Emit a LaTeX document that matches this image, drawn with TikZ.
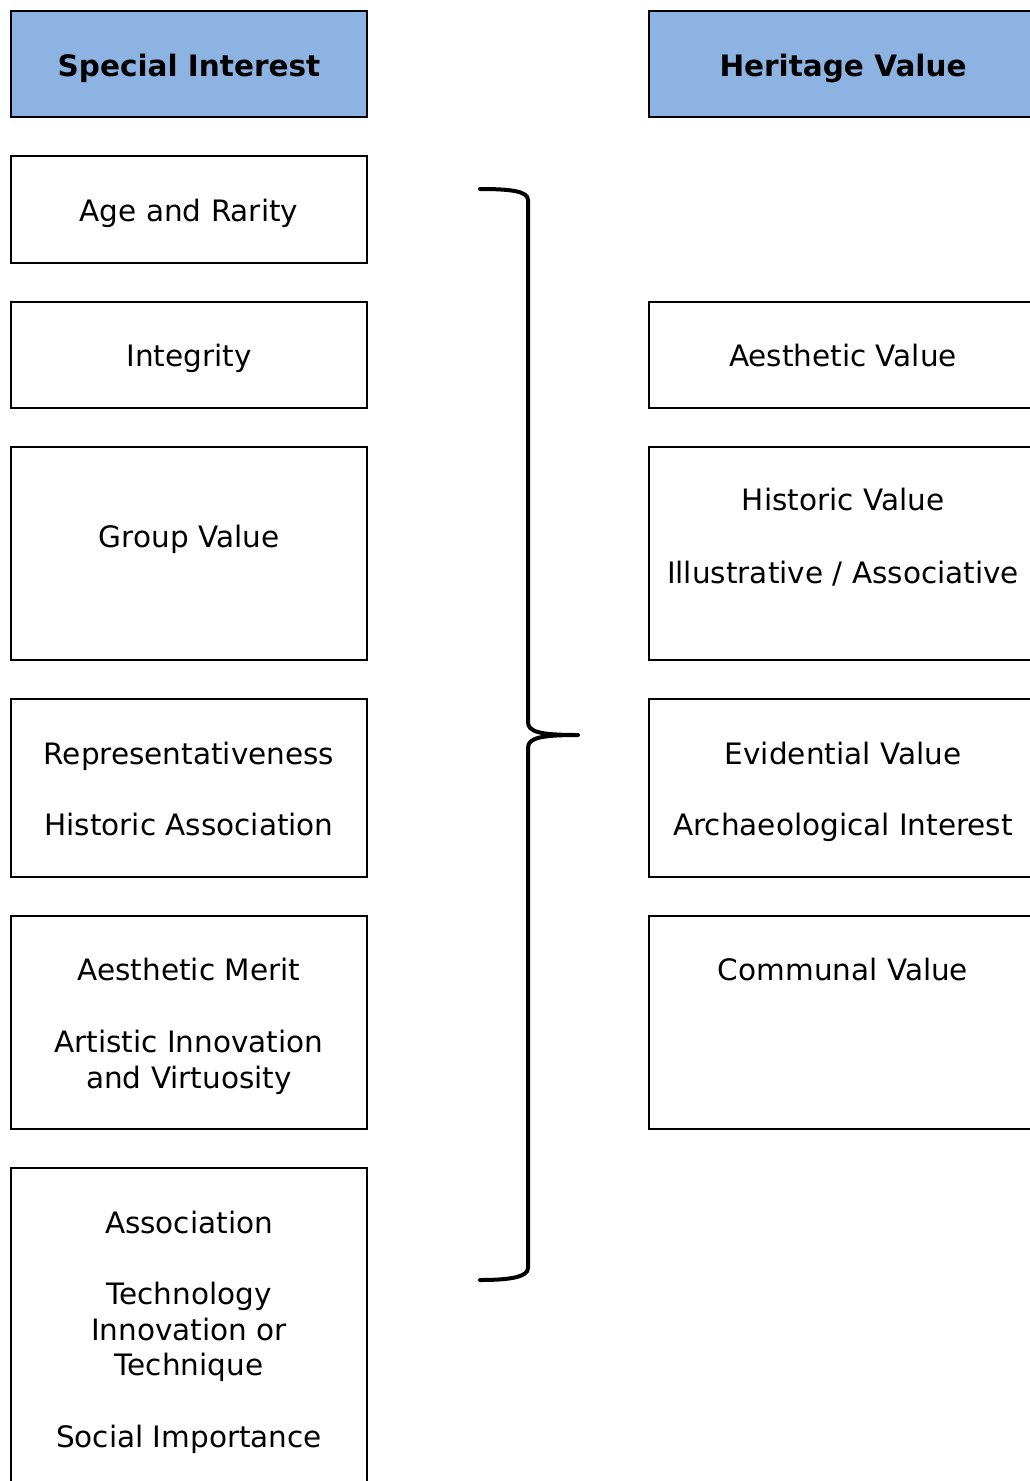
\documentclass[tikz,border=0pt]{standalone}
\usepackage{fontspec}
\setmainfont{DejaVu Sans}
\definecolor{hdrblue}{HTML}{8DB3E2}
\begin{document}
\begin{tikzpicture}[x=1pt,y=-1pt,
  box/.style={draw=black, line width=2.8pt, rectangle, inner sep=0pt},
  hdr/.style={box, fill=hdrblue},
  txt/.style={anchor=base, inner sep=0pt, font=\fontsize{29.5}{35}\selectfont},
  htxt/.style={txt, font=\fontsize{29.5}{35}\selectfont\bfseries},
  bracestyle/.style={line width=4pt, line cap=round, line join=round}]
\useasboundingbox (0,0) rectangle (1030,1481);
\clip (0,0) rectangle (1030,1481);
% left column boxes
\node[hdr, minimum width=356, minimum height=106] (h1) at (189,64) {};
\node[box, minimum width=356, minimum height=107] (b1) at (189,209.5) {};
\node[box, minimum width=356, minimum height=106] (b2) at (189,355) {};
\node[box, minimum width=356, minimum height=213] (b3) at (189,553.5) {};
\node[box, minimum width=356, minimum height=178] (b4) at (189,788) {};
\node[box, minimum width=356, minimum height=213] (b5) at (189,1022.5) {};
\node[box, minimum width=356, minimum height=330] (b6) at (189,1333) {};
% right column boxes
\node[hdr, minimum width=420, minimum height=106] (h2) at (859,64) {};
\node[box, minimum width=420, minimum height=106] (r2) at (859,355) {};
\node[box, minimum width=420, minimum height=213] (r3) at (859,553.5) {};
\node[box, minimum width=420, minimum height=178] (r4) at (859,788) {};
\node[box, minimum width=420, minimum height=213] (r5) at (859,1022.5) {};
% texts left
\node[htxt] (th1) at (189,76) {Special Interest};
\node[txt] (t1) at (189,221) {Age and Rarity};
\node[txt] (t2) at (189,366) {Integrity};
\node[txt] (t3) at (189,547) {Group Value};
\node[txt] (t4a) at (189,764) {Representativeness};
\node[txt] (t4b) at (189,835) {Historic Association};
\node[txt] (t5a) at (189,980) {Aesthetic Merit};
\node[txt] (t5b) at (189,1052) {Artistic Innovation};
\node[txt] (t5c) at (189,1088) {and Virtuosity};
\node[txt] (t6a) at (189,1233) {Association};
\node[txt] (t6b) at (189,1304) {Technology};
\node[txt] (t6c) at (189,1340) {Innovation or};
\node[txt] (t6d) at (189,1375) {Technique};
\node[txt] (t6e) at (189,1447) {Social Importance};
% texts right
\node[htxt] (th2) at (843,76) {Heritage Value};
\node[txt] (s2) at (843,366) {Aesthetic Value};
\node[txt] (s3a) at (843,510) {Historic Value};
\node[txt] (s3b) at (843,583) {Illustrative / Associative};
\node[txt] (s4a) at (843,764) {Evidential Value};
\node[txt] (s4b) at (843,835) {Archaeological Interest};
\node[txt] (s5) at (843,980) {Communal Value};
% brace
\coordinate (bt) at (480,189);
\coordinate (bm) at (578,735);
\coordinate (bb) at (480,1280);
\draw[bracestyle] (bt) .. controls (510,189) and (528,191) .. (528,200)
  -- (528,722) .. controls (528,732) and (540,735) .. (bm)
  .. controls (540,735) and (528,738) .. (528,748)
  -- (528,1268) .. controls (528,1277) and (510,1280) .. (bb);
\end{tikzpicture}
\end{document}
